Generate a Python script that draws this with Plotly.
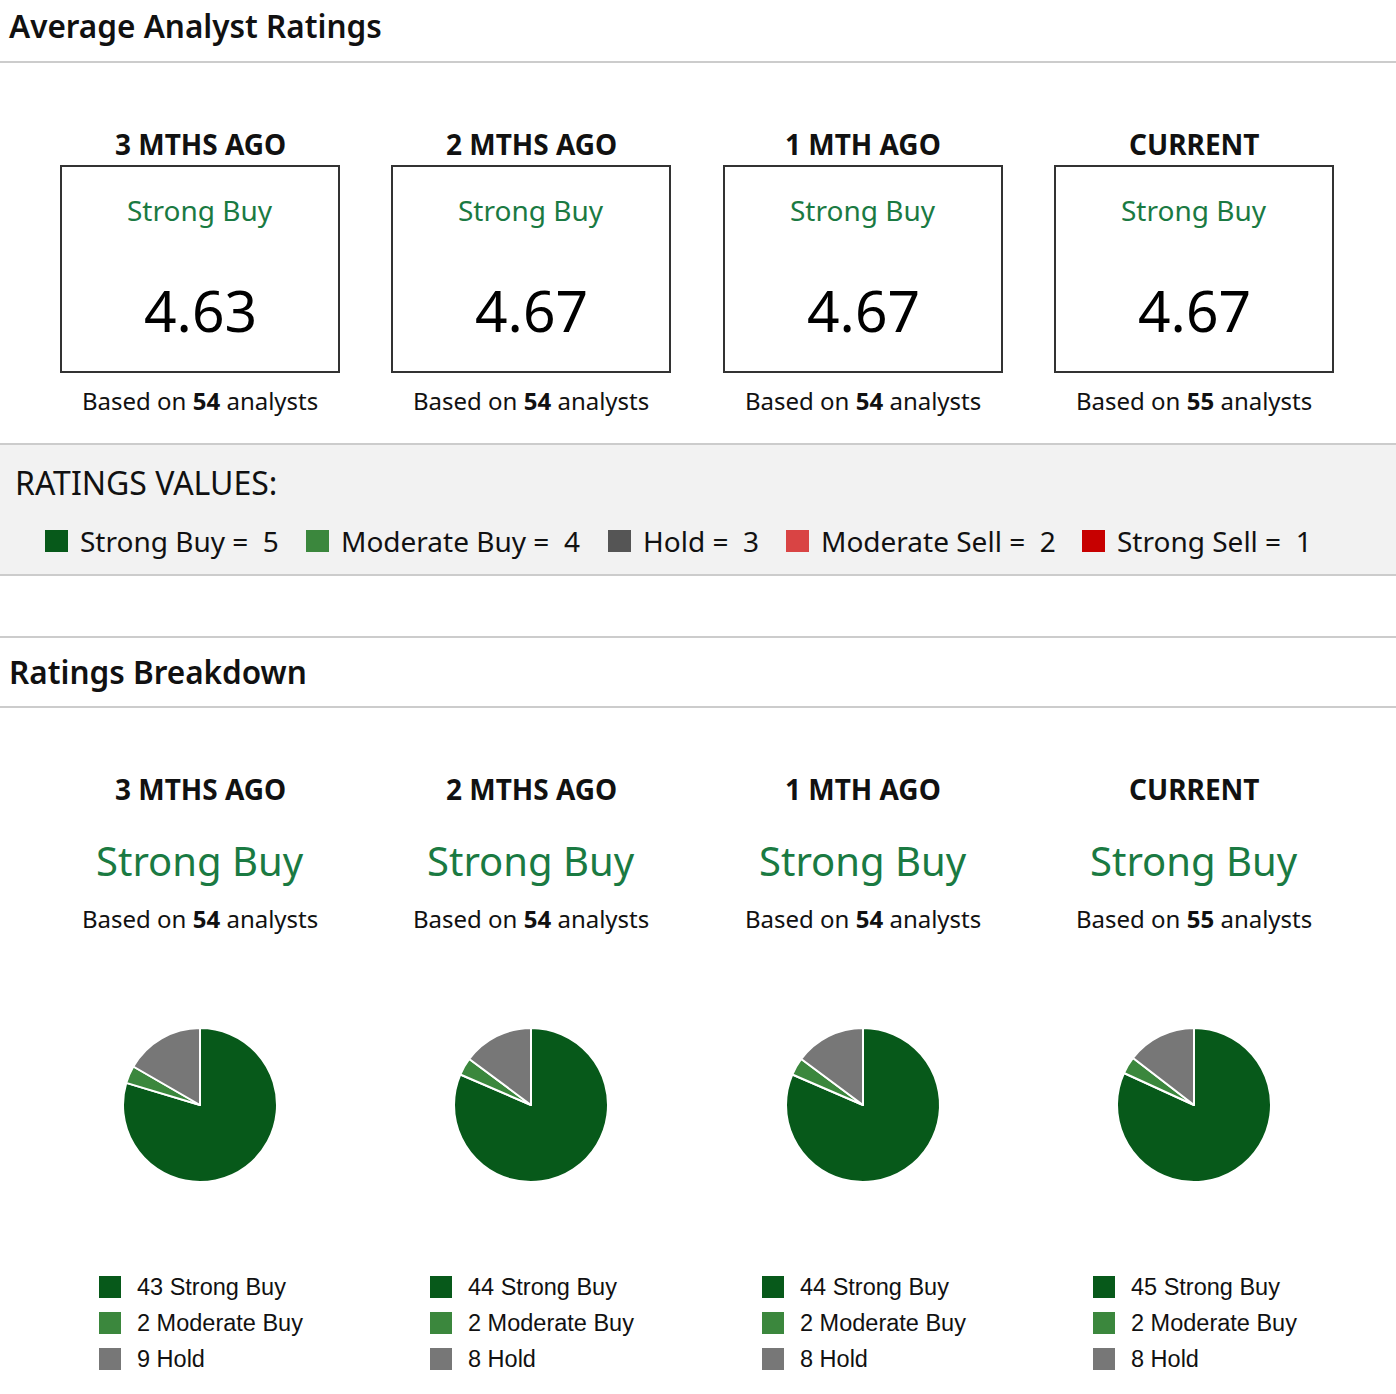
import plotly.graph_objects as go

W, H = 1396, 1394

# data
periods = ["3 MTHS AGO", "2 MTHS AGO", "1 MTH AGO", "CURRENT"]
avg_rating = [4.63, 4.67, 4.67, 4.67]
rating_label = ["Strong Buy", "Strong Buy", "Strong Buy", "Strong Buy"]
n_analysts = [54, 54, 54, 55]
strong_buy = [43, 44, 44, 45]
moderate_buy = [2, 2, 2, 2]
hold = [9, 8, 8, 8]
slice_names = ["Strong Buy", "Moderate Buy", "Hold"]
scale_names = ["Strong Buy", "Moderate Buy", "Hold", "Moderate Sell", "Strong Sell"]
scale_values = [5, 4, 3, 2, 1]

# colours
SB_GREEN = "#07591a"
MB_GREEN = "#3b873d"
PIE_GRAY = "#777777"
TEXT_GREEN = "#1a7a42"
scale_colors = [SB_GREEN, MB_GREEN, "#555555", "#d94444", "#c70000"]
pie_colors = [SB_GREEN, MB_GREEN, PIE_GRAY]

FONT = "Noto Sans"
col_x = [200, 531, 863, 1194]


def fx(x):
    return x / W


def fy(y):
    return 1 - y / H


fig = go.Figure()
shapes = []
annots = []


def text(x, y, s, size, color="#111111", xanchor="center", weight="normal", family=FONT):
    annots.append(dict(x=fx(x), y=fy(y), xref="paper", yref="paper", text=s,
                       showarrow=False, xanchor=xanchor, yanchor="middle",
                       font=dict(family=family, size=size, color=color, weight=weight)))


def hline(y, color="#cccccc", width=2):
    shapes.append(dict(type="line", xref="paper", yref="paper", x0=0, x1=1,
                       y0=fy(y), y1=fy(y), line=dict(color=color, width=width)))


def rect(x0, y0, x1, y1, fill=None, line_color=None, lw=0):
    shapes.append(dict(type="rect", xref="paper", yref="paper",
                       x0=fx(x0), x1=fx(x1), y0=fy(y1), y1=fy(y0),
                       fillcolor=fill if fill else "rgba(0,0,0,0)",
                       line=dict(color=line_color if line_color else "rgba(0,0,0,0)", width=lw),
                       layer="below"))


# section 1 - average ratings
text(7, 25, "Average Analyst Ratings", 31.5, xanchor="left", weight=600)
hline(62)

for i, cx in enumerate(col_x):
    text(cx, 144, periods[i], 28, weight="bold")
    rect(cx - 139, 166, cx + 139, 372, line_color="#333333", lw=2)
    text(cx, 210, rating_label[i], 28, color=TEXT_GREEN)
    text(cx, 310, f"{avg_rating[i]:.2f}", 57, color="#000000")
    text(cx, 401, f"Based on <b>{n_analysts[i]}</b> analysts", 24)

# ratings values band
rect(0, 444, W, 575, fill="#f2f2f2")
hline(444)
hline(575)
text(13, 483, "RATINGS VALUES:", 32, xanchor="left")
sq_x = [45, 306, 608, 786, 1082]
for name, val, col, x in zip(scale_names, scale_values, scale_colors, sq_x):
    rect(x, 530, x + 23, 552, fill=col)
    text(x + 33, 541, f"{name} =  {val}", 28, xanchor="left")

# section 2 - breakdown
hline(637)
text(7, 671, "Ratings Breakdown", 31.5, xanchor="left", weight=600)
hline(707)

R = 77
PIE_Y = 1105
for i, cx in enumerate(col_x):
    text(cx, 789, periods[i], 28, weight="bold")
    text(cx, 860, rating_label[i], 40, color=TEXT_GREEN)
    text(cx, 918, f"Based on <b>{n_analysts[i]}</b> analysts", 24)

    counts = [strong_buy[i], moderate_buy[i], hold[i]]
    fig.add_trace(go.Pie(
        labels=slice_names, values=counts, sort=False,
        direction="clockwise", rotation=0,
        marker=dict(colors=pie_colors, line=dict(color="white", width=2)),
        textinfo="none", hoverinfo="label+value", showlegend=False,
        domain=dict(x=[fx(cx - R), fx(cx + R)], y=[fy(PIE_Y + R), fy(PIE_Y - R)]),
    ))

    lx = cx - 101
    for j, (name, n, col) in enumerate(zip(slice_names, counts, pie_colors)):
        yc = 1287 + 36 * j
        rect(lx, yc - 11, lx + 22, yc + 11, fill=col)
        text(lx + 36, yc, f"{n} {name}", 23.5, xanchor="left", family="Liberation Sans")

fig.update_layout(
    width=W, height=H,
    margin=dict(l=0, r=0, t=0, b=0),
    paper_bgcolor="white", plot_bgcolor="white",
    shapes=shapes, annotations=annots,
    font=dict(family=FONT),
)

fig.write_html("out.html", config={"displayModeBar": False},
               post_script="document.body.style.margin='0';document.body.style.overflow='hidden';")
